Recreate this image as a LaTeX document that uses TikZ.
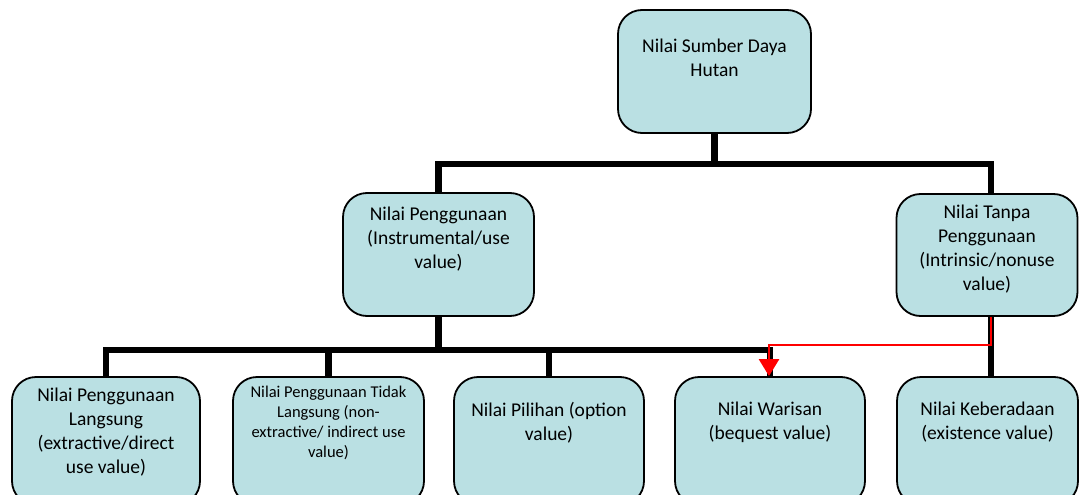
\documentclass[tikz,border=0pt]{standalone}
\usepackage{fontspec}
\setmainfont{Carlito}
\usetikzlibrary{arrows.meta}
\definecolor{boxfill}{RGB}{186,224,227}
\definecolor{arrowred}{RGB}{255,0,0}
\tikzset{
  box/.style={draw=black, line width=1.8pt, rounded corners=24pt, fill=boxfill, inner sep=0pt},
  label/.style={align=center, font=\fontsize{19.5}{24}\selectfont, inner sep=0pt},
  smalllabel/.style={align=center, font=\fontsize{16.5}{20}\selectfont, inner sep=0pt},
  conn/.style={draw=black, line width=6.5pt, line join=miter},
  redconn/.style={draw=arrowred, line width=2.6pt, line join=miter, -{Triangle[width=20pt,length=17pt]}}
}
\begin{document}
\begin{tikzpicture}[x=1pt, y=-1pt]
\useasboundingbox (0,0) rectangle (1079,495);
\clip (0,0) rectangle (1079,495);
% boxes
\node[box, minimum width=193pt, minimum height=123pt] (top) at (714.5,71.5) {};
\node[box, minimum width=191pt, minimum height=123pt] (midL) at (438.5,254.5) {};
\node[box, minimum width=181pt, minimum height=122pt] (midR) at (987,255) {};
\node[box, minimum width=188pt, minimum height=128pt] (b1) at (106,441) {};
\node[box, minimum width=191pt, minimum height=128pt] (b2) at (328.5,441) {};
\node[box, minimum width=190pt, minimum height=128pt] (b3) at (549,441) {};
\node[box, minimum width=190pt, minimum height=128pt] (b4) at (770,441) {};
\node[box, minimum width=181pt, minimum height=128pt] (b5) at (987.5,441) {};
% texts
\node[label] (ttop) at (714.5,57.5) {Nilai Sumber Daya\\Hutan};
\node[label] (tmidL) at (438.5,239) {Nilai Penggunaan\\(Instrumental/use\\value)};
\node[label] (tmidR) at (987,249) {Nilai Tanpa\\Penggunaan\\(Intrinsic/nonuse\\value)};
\node[label] (tb1) at (106,432) {Nilai Penggunaan\\Langsung\\(extractive/direct\\use value)};
\node[smalllabel] (tb2) at (328.5,423) {Nilai Penggunaan Tidak\\Langsung (non-\\extractive/ indirect use\\value)};
\node[label] (tb3) at (549,423) {Nilai Pilihan (option\\value)};
\node[label] (tb4) at (770,422) {Nilai Warisan\\(bequest value)};
\node[label] (tb5) at (987.5,422) {Nilai Keberadaan\\(existence value)};
% connectors
\coordinate (barA) at (714.5,164);
\coordinate (barB) at (437.5,350);
\draw[conn] (top.south) -- (top.south |- barA);
\draw[conn] (midL.north) |- (barA) -| ([xshift=4pt]midR.north);
\draw[conn] (midL.south) -- (midL.south |- barB);
\draw[conn] (b1.north) |- (b4.north |- barB) -- (b4.north);
\draw[conn] (b2.north) -- (b2.north |- barB);
\draw[conn] (b3.north) -- (b3.north |- barB);
\draw[conn] ([xshift=4pt]midR.south) -- ([xshift=4pt]midR.south |- b5.north);
\coordinate (redturn) at (991,345);
\draw[redconn] ([xshift=4pt]midR.south) -- (redturn) -| ([xshift=-1pt]b4.north);
\end{tikzpicture}
\end{document}
